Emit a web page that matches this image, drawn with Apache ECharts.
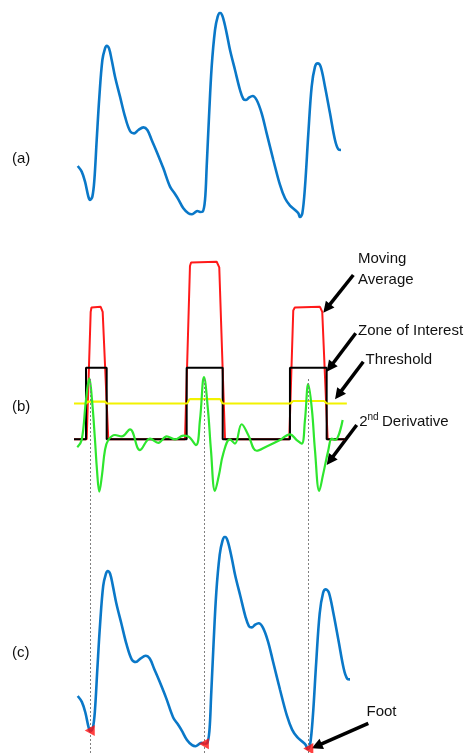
<!DOCTYPE html>
<html>
<head>
<meta charset="utf-8">
<script src="https://cdn.jsdelivr.net/npm/echarts@6/dist/echarts.min.js"></script>
<style>html,body{margin:0;padding:0;background:#fff}#c{width:465px;height:753px}</style>
</head>
<body>
<div id="c"></div>
<script>
// ---- PPG waveform (panels a and c): sample index and amplitude ----
const ppgSample = [0,12,22,32,37,44,50,57,65,74,82,87,94,102,112,127,142,157,169,182,197,209,222,237,257,277,292,302,317,332,342,352,359,367,375,382,387,394,402,412,420,427,435,447,457,472,487,497,505,515,525,537,552,567,587,607,622,637,652,662,667,674,682,692,702,712,720,729,742,757,772,782,790];
const ppgAmp    = [154,137,107,62,52,62,112,232,362,472,507,515,507,472,422,362,302,259,252,262,270,262,232,197,147,92,70,54,27,12,9,15,19,16,17,52,152,302,452,562,602,614,602,552,502,442,382,355,352,360,364,352,312,252,172,97,57,35,22,12,0,12,92,252,392,452,462,452,392,312,232,204,202];

// ---- Foot points (panel c) ----
const footSample = [35, 366, 669];
const footAmp    = [54, 16, 2];

// ---- Panel b: moving average ----
const maSample = [-10.7,26.1,37.7,40,42.4,66.7,70,72.5,88.8,311.3,325.8,329,332.5,403.3,407,410.8,427.4,613.9,625.5,630,635.4,703,706,709.6,725.3,775.5];
const maValue  = [0,0,1.78,1.84,1.85,1.85,1.84,1.78,0,0,2.42,2.47,2.48,2.48,2.46,2.40,0,0,1.80,1.84,1.85,1.85,1.83,1.78,0,0];

// ---- Panel b: zone of interest ----
const zoneSample = [-10.7,24.1,24.1,84.1,84.1,316.2,316.2,420.7,420.7,615.9,615.9,722.4,722.4,775.5];
const zoneValue  = [0,0,1,1,0,0,1,1,0,0,1,1,0,0];

// ---- Panel b: threshold ----
const thrSample = [-10.7,24,30,78,86,316,326,412,422,616,626,714,724,781];
const thrValue  = [0.5,0.5,0.525,0.525,0.5,0.5,0.56,0.56,0.5,0.5,0.535,0.535,0.5,0.5];

// ---- Panel b: 2nd derivative ----
const d2Sample = [-1.2,11.6,24.1,33.7,41.5,50.2,56,62.7,70.5,79.2,88.8,108.2,127.7,151.7,180.7,209.8,233.8,258.2,282.3,306.4,320.9,343.2,354.8,366.4,378,386.7,398.3,409.9,422.4,441.8,456.3,475.8,494.9,519.3,548.3,586.9,615.9,635.4,649.9,659.5,669,679.7,688.5,701,711.7,727.3,737.1,746.7,768.8];
const d2Value  = [-0.11,-0.01,0.55,0.85,0.55,-0.01,-0.43,-0.73,-0.5,-0.15,-0.01,0.06,0.04,0.14,-0.15,0.01,-0.05,0.04,0,0.05,0.04,-0.08,0.27,0.87,0.41,-0.15,-0.72,-0.5,-0.2,0,-0.06,0.21,0.06,-0.16,-0.1,-0.01,0.07,-0.01,-0.06,0.27,0.77,0.41,-0.15,-0.72,-0.5,-0.15,0.01,-0.01,0.27];

const zip = (a, b) => a.map((v, i) => [v, b[i]]);

const chart = echarts.init(document.getElementById('c'), null, {renderer: 'canvas'});

const hiddenX = (min, max, gi) => ({type: 'value', gridIndex: gi, min, max, show: false});
const hiddenY = (min, max, gi) => ({type: 'value', gridIndex: gi, min, max, show: false});

const FONT = '15px "Liberation Sans", Arial, sans-serif';
const TXT = '#111';

function arrow(x1, y1, x2, y2) {
  const dx = x2 - x1, dy = y2 - y1, L = Math.hypot(dx, dy);
  const ux = dx / L, uy = dy / L, hl = 11, hw = 5.5;
  const bx = x2 - ux * hl, by = y2 - uy * hl;
  return [
    {type: 'line', shape: {x1, y1, x2: bx + ux * 2, y2: by + uy * 2}, style: {stroke: '#000', lineWidth: 3.5}},
    {type: 'polygon', shape: {points: [[x2, y2], [bx - uy * hw, by + ux * hw], [bx + uy * hw, by - ux * hw]]}, style: {fill: '#000'}}
  ];
}
function text(t, x, y, font) {
  return {type: 'text', x, y, style: {text: t, font: font || FONT, fill: TXT, verticalAlign: 'middle'}};
}

const graphics = [].concat(
  text('(a)', 12, 158.5), text('(b)', 12, 407), text('(c)', 12, 653),
  text('Moving', 358, 259), text('Average', 358, 279.5),
  text('Zone of Interest', 358, 331),
  text('Threshold', 365.5, 359.5),
  text('2', 359.3, 422), text('nd', 367.5, 417, '10px "Liberation Sans", Arial, sans-serif'), text('Derivative', 382, 422),
  text('Foot', 366.5, 712),
  arrow(353.3, 275, 323.3, 312.7),
  arrow(355.7, 333.3, 326.7, 371.7),
  arrow(363.3, 361.7, 335, 399.3),
  arrow(356.7, 425, 326.7, 465),
  arrow(368.3, 723.3, 311.7, 748.3)
);

const option = {
  animation: false,
  backgroundColor: '#fff',
  grid: [
    {left: 77.7, top: 12.7, width: 263.3, height: 204.6},
    {left: 70.8, top: 224.5, width: 282.6, height: 286.4},
    {left: 77.7, top: 536.7, width: 272.3, height: 212.6},
    {left: 77.7, top: 379, width: 272.3, height: 374}
  ],
  xAxis: [hiddenX(0, 790, 0), hiddenX(-20, 800, 1), hiddenX(0, 790, 2), hiddenX(0, 790, 3)],
  yAxis: [hiddenY(0, 614, 0), hiddenY(-1, 3, 1), hiddenY(0, 614, 2), hiddenY(0, 1, 3)],
  series: [
    {type: 'line', xAxisIndex: 3, yAxisIndex: 3, data: [], silent: true,
     markLine: {silent: true, symbol: 'none', label: {show: false},
       lineStyle: {color: '#808080', type: [2, 2], width: 1},
       data: footSample.map(s => ({xAxis: s}))}},
    {type: 'line', xAxisIndex: 0, yAxisIndex: 0, data: zip(ppgSample, ppgAmp), smooth: 0.35,
     showSymbol: false, lineStyle: {color: '#0a78c8', width: 2.6}},
    {type: 'line', xAxisIndex: 1, yAxisIndex: 1, data: zip(maSample, maValue), showSymbol: false,
     lineStyle: {color: '#ff1a1a', width: 2}},
    {type: 'line', xAxisIndex: 1, yAxisIndex: 1, data: zip(zoneSample, zoneValue), showSymbol: false,
     lineStyle: {color: '#000', width: 2}},
    {type: 'line', xAxisIndex: 1, yAxisIndex: 1, data: zip(thrSample, thrValue), showSymbol: false, smooth: 0.3,
     lineStyle: {color: '#f2f200', width: 2.2}},
    {type: 'line', xAxisIndex: 1, yAxisIndex: 1, data: zip(d2Sample, d2Value), showSymbol: false, smooth: 0.4,
     lineStyle: {color: '#2ee62e', width: 2.2}},
    {type: 'line', xAxisIndex: 2, yAxisIndex: 2, data: zip(ppgSample, ppgAmp), smooth: 0.35,
     showSymbol: false, lineStyle: {color: '#0a78c8', width: 2.6}},
    {type: 'scatter', xAxisIndex: 2, yAxisIndex: 2, data: zip(footSample, footAmp),
     symbol: 'triangle', symbolRotate: 90, symbolSize: [11, 10], itemStyle: {color: '#ff1010'}, z: 5}
  ],
  graphic: graphics
};
chart.setOption(option);
</script>
</body>
</html>
